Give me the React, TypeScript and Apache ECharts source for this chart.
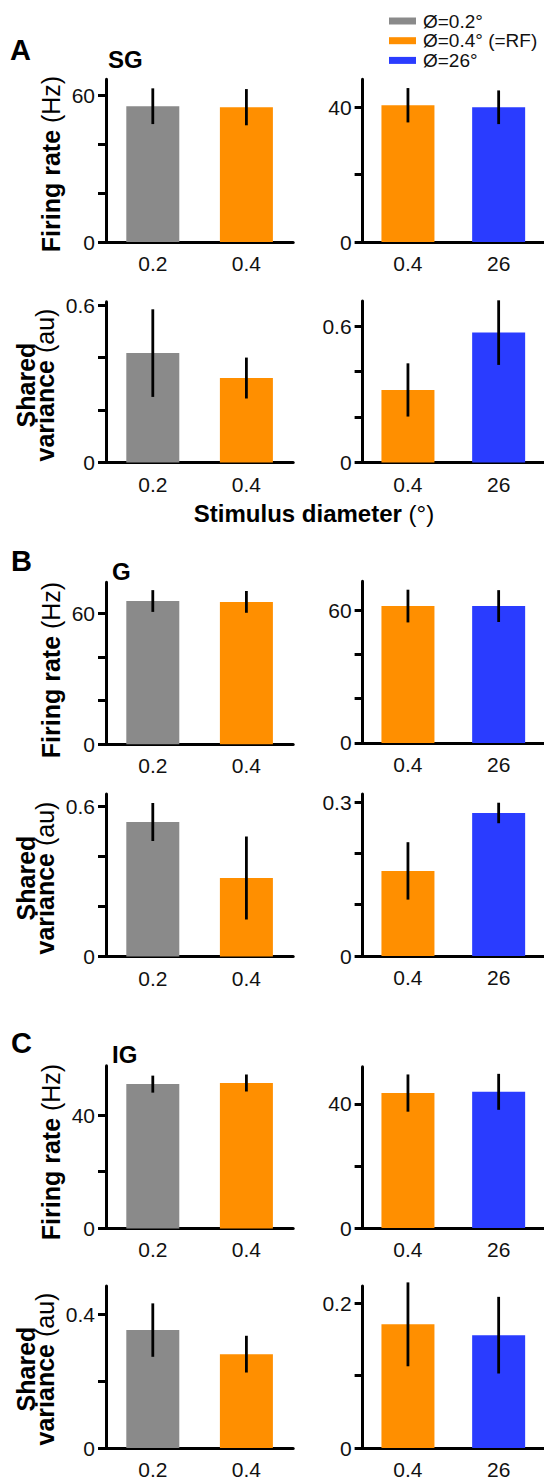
import React, { useEffect, useRef } from "react";
import * as echarts from "echarts";

// ---------- data ----------
const catsSmall = ["0.2", "0.4"];
const catsLarge = ["0.4", "26"];
const legendNames = ["Ø=0.2°", "Ø=0.4° (=RF)", "Ø=26°"];

// A: SG
const sgRateSmall = [55.5, 55.1];
const sgRateSmallErr = [7.3, 7.4];
const sgRateLarge = [40.6, 40.0];
const sgRateLargeErr = [5.1, 5.0];
const sgVarSmall = [0.417, 0.322];
const sgVarSmallErr = [0.167, 0.078];
const sgVarLarge = [0.319, 0.571];
const sgVarLargeErr = [0.117, 0.142];
// B: G
const gRateSmall = [65.8, 65.4];
const gRateSmallErr = [5.0, 5.0];
const gRateLarge = [61.9, 61.9];
const gRateLargeErr = [7.4, 7.2];
const gVarSmall = [0.538, 0.314];
const gVarSmallErr = [0.076, 0.166];
const gVarLarge = [0.166, 0.279];
const gVarLargeErr = [0.056, 0.02];
// C: IG
const igRateSmall = [50.9, 51.3];
const igRateSmallErr = [3.0, 3.0];
const igRateLarge = [43.5, 43.9];
const igRateLargeErr = [6.0, 5.8];
const igVarSmall = [0.353, 0.281];
const igVarSmallErr = [0.08, 0.055];
const igVarLarge = [0.171, 0.156];
const igVarLargeErr = [0.058, 0.053];

// axis extents / ticks / labelled ticks
const yMaxes = [66.5, 48.3, 0.613, 0.71, 74.4, 73.1, 0.65, 0.316, 57.4, 52, 0.485, 0.224];
const yTicks = [
  [0, 20, 40, 60], [0, 20, 40], [0, 0.2, 0.4, 0.6], [0, 0.2, 0.4, 0.6],
  [0, 20, 40, 60], [0, 20, 40, 60], [0, 0.2, 0.4, 0.6], [0, 0.1, 0.2, 0.3],
  [0, 20, 40], [0, 20, 40], [0, 0.2, 0.4], [0, 0.1, 0.2],
];
const yLabels = [
  [0, 60], [0, 40], [0, 0.6], [0, 0.6],
  [0, 60], [0, 60], [0, 0.6], [0, 0.3],
  [0, 40], [0, 40], [0, 0.4], [0, 0.2],
];

// ---------- layout ----------
const GRAY = "#8a8a8a";
const ORANGE = "#ff8f00";
const BLUE = "#2a3cff";
const FONT = '"Liberation Sans", Arial, Helvetica, sans-serif';
const TXT = "#111";
const LEFT_X = [106, 362.6];
const GRID_W = 187.2;
// [top, bottom] per panel (left, right alternating)
const gridBox = [
  [79.3, 242], [79.3, 242],
  [301.7, 462.5], [301, 462.5],
  [582.3, 744.2], [581.3, 742.9],
  [794, 956.5], [794, 956],
  [1065.7, 1228.4], [1066.7, 1228],
  [1286, 1448], [1286, 1448],
];

const panelVals = [
  [sgRateSmall, sgRateSmallErr], [sgRateLarge, sgRateLargeErr],
  [sgVarSmall, sgVarSmallErr], [sgVarLarge, sgVarLargeErr],
  [gRateSmall, gRateSmallErr], [gRateLarge, gRateLargeErr],
  [gVarSmall, gVarSmallErr], [gVarLarge, gVarLargeErr],
  [igRateSmall, igRateSmallErr], [igRateLarge, igRateLargeErr],
  [igVarSmall, igVarSmallErr], [igVarLarge, igVarLargeErr],
];

function buildOption() {
  const grid: any[] = [];
  const xAxis: any[] = [];
  const yAxis: any[] = [];
  const series: any[] = [];
  panelVals.forEach(([vals, errs], i) => {
    const side = i % 2;
    const [top, bottom] = gridBox[i];
    grid.push({ left: LEFT_X[side], top, width: GRID_W, height: bottom - top, containLabel: false });
    xAxis.push({
      type: "category",
      gridIndex: i,
      data: side === 0 ? catsSmall : catsLarge,
      axisLine: { lineStyle: { color: "#000", width: 3 } },
      axisTick: { alignWithLabel: true, length: 8, lineStyle: { color: "#000", width: 3 } },
      axisLabel: { interval: 0, margin: 11, fontSize: 21, fontFamily: FONT, color: TXT },
      splitLine: { show: false },
    });
    yAxis.push({
      type: "value",
      gridIndex: i,
      min: 0,
      max: yMaxes[i],
      axisLine: { show: true, lineStyle: { color: "#000", width: 3 } },
      axisTick: { show: true, length: 8, customValues: yTicks[i], lineStyle: { color: "#000", width: 3 } },
      axisLabel: {
        margin: 11,
        fontSize: 21,
        fontFamily: FONT,
        color: TXT,
        customValues: yLabels[i],
        formatter: (v: number) => String(Math.round(v * 1000) / 1000),
      },
      splitLine: { show: false },
    });
    const colors = side === 0 ? [GRAY, ORANGE] : [ORANGE, BLUE];
    const names = side === 0 ? [legendNames[0], legendNames[1]] : [legendNames[1], legendNames[2]];
    [0, 1].forEach((j) => {
      series.push({
        type: "bar",
        name: names[j],
        xAxisIndex: i,
        yAxisIndex: i,
        data: vals.map((v: number, k: number) => (k === j ? v : "-")),
        barWidth: 53,
        barGap: "-100%",
        itemStyle: { color: colors[j] },
        silent: true,
      });
    });
    series.push({
      type: "custom",
      xAxisIndex: i,
      yAxisIndex: i,
      z: 5,
      silent: true,
      encode: { x: 0, y: [1, 2] },
      data: vals.map((v: number, k: number) => [k, v - errs[k], v + errs[k]]),
      renderItem: (params: any, api: any) => {
        const p1 = api.coord([api.value(0), api.value(1)]);
        const p2 = api.coord([api.value(0), api.value(2)]);
        return {
          type: "line",
          shape: { x1: p1[0], y1: p1[1], x2: p2[0], y2: p2[1] },
          style: { stroke: "#000", lineWidth: 2.8 },
        };
      },
    });
  });

  const bold = (s: number) => ({ fontSize: s, fontWeight: "bold", fontFamily: FONT, fill: "#000" });
  const letter = (t: string, x: number, y: number, size: number) => ({
    type: "text",
    x,
    y,
    style: { text: t, ...bold(size), align: "left", verticalAlign: "middle" },
  });
  const yTitle = (rich: string, x: number, y: number) => ({
    type: "text",
    x,
    y,
    rotation: Math.PI / 2,
    style: {
      text: rich,
      align: "center",
      verticalAlign: "middle",
      fontFamily: FONT,
      fill: "#000",
      rich: {
        b: { fontSize: 25, fontWeight: "bold", fontFamily: FONT, fill: "#000", lineHeight: 19 },
        r: { fontSize: 25, fontFamily: FONT, fill: "#000", lineHeight: 19 },
      },
    },
  });
  const rateT = "{b|Firing rate }{r|(Hz)}";
  const varT = "{b|Shared}\n{b|variance }{r|(au)}";

  const graphic = [
    letter("A", 10, 50, 29),
    letter("SG", 108, 59.5, 24),
    letter("B", 11, 561, 29),
    letter("G", 112, 571, 24),
    letter("C", 11, 1043, 29),
    letter("IG", 112, 1054, 24),
    yTitle(rateT, 51, 164),
    yTitle(varT, 35, 385),
    yTitle(rateT, 51, 670),
    yTitle(varT, 35, 878),
    yTitle(rateT, 51, 1152),
    yTitle(varT, 35, 1369),
    {
      type: "text",
      x: 314,
      y: 513,
      style: {
        text: "{b|Stimulus diameter }{r|(°)}",
        align: "center",
        verticalAlign: "middle",
        rich: {
          b: { fontSize: 24, fontWeight: "bold", fontFamily: FONT, fill: "#000" },
          r: { fontSize: 24, fontFamily: FONT, fill: "#000" },
        },
      },
    },
  ];

  return {
    animation: false,
    backgroundColor: "#fff",
    legend: {
      data: legendNames,
      orient: "vertical",
      left: 384,
      top: 6.5,
      itemWidth: 27,
      itemHeight: 7,
      itemGap: 0.7,
      icon: "rect",
      selectedMode: false,
      textStyle: { fontSize: 19, fontFamily: FONT, color: TXT, lineHeight: 18, padding: [0, 0, 0, 2] },
    },
    grid,
    xAxis,
    yAxis,
    series,
    graphic,
  };
}

export default function App() {
  const ref = useRef<HTMLDivElement>(null);
  useEffect(() => {
    if (!ref.current) return;
    const chart = echarts.init(ref.current, undefined, { renderer: "svg" });
    chart.setOption(buildOption() as any);
    return () => chart.dispose();
  }, []);
  return (
    <div
      ref={ref}
      style={{ position: "absolute", left: 0, top: 0, width: 544, height: 1484, background: "#fff" }}
    />
  );
}
